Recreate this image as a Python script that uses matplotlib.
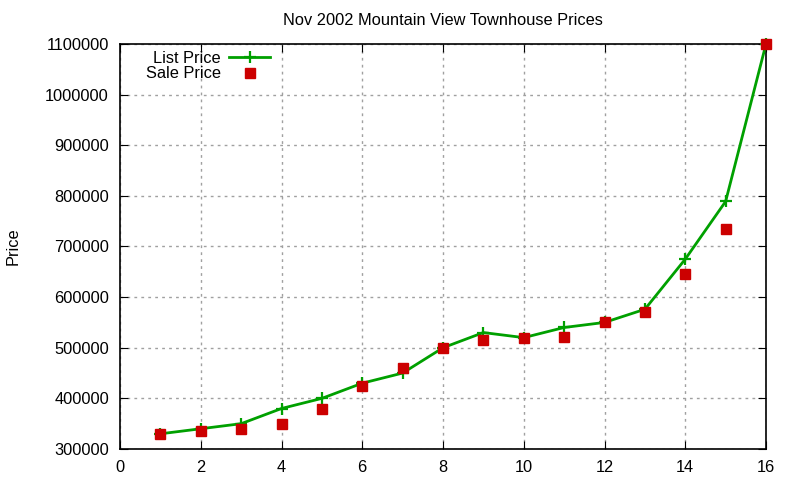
import matplotlib
matplotlib.use("Agg")
from matplotlib import pyplot as plt

plt.rcParams["font.family"] = ["Liberation Sans", "DejaVu Sans"]

houses = list(range(1, 17))
list_price = [330000, 340000, 350000, 380000, 400000, 430000, 450000, 500000,
              530000, 520000, 540000, 550000, 576000, 675000, 789000, 1100000]
sale_price = [330000, 335000, 339000, 350000, 380000, 425000, 460000, 500000,
              516000, 520000, 522000, 550000, 570000, 645000, 735000, 1100000]

fig = plt.figure(figsize=(8, 4.8), dpi=100)
ax = fig.add_axes([120 / 800, 1 - 449 / 480, 646 / 800, 405 / 480])

ax.plot(houses, list_price, color="#00a000", lw=2, marker="+", ms=8, mew=1.6,
        label="List Price", clip_on=False, zorder=3)
ax.plot(houses, sale_price, ls="none", marker="s", ms=6.5, color="#cc0000",
        label="Sale Price", clip_on=False, zorder=4)

ax.set_xlim(0, 16)
ax.set_ylim(300000, 1100000)
ax.set_xticks(range(0, 17, 2))
ax.set_yticks(range(300000, 1100001, 100000))
ax.set_yticklabels([str(v) for v in range(300000, 1100001, 100000)])
ax.tick_params(direction="in", top=True, right=True, length=6, labelsize=11.8,
               pad=8)
ax.grid(True, ls=(0, (2, 3)), color="#a0a0a0", lw=1)
for s in ax.spines.values():
    s.set_linewidth(1.2)

ax.set_title("Nov 2002 Mountain View Townhouse Prices", fontsize=11.8, pad=14)
ax.set_ylabel("Price", fontsize=11.8, labelpad=18)

ax.legend(loc="upper left", bbox_to_anchor=(0.03, 1.0), frameon=False,
          markerfirst=False, fontsize=11.8, handlelength=2.5, handletextpad=0.5,
          labelspacing=0.05, borderaxespad=0)

fig.savefig("out.png", dpi=100)
